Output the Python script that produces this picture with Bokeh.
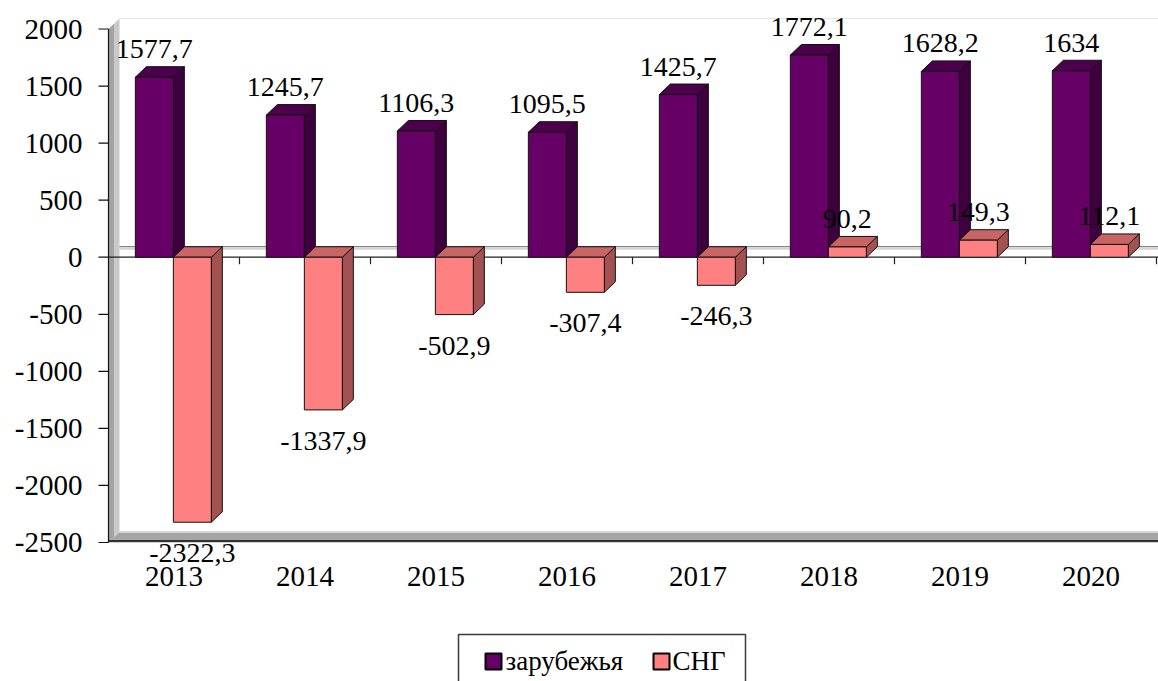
from bokeh.plotting import figure
from bokeh.models import ColumnDataSource, LabelSet, Range1d
from bokeh.core.properties import value
from bokeh.embed import file_html
from bokeh.resources import INLINE

# ---- data ----
years = ["2013", "2014", "2015", "2016", "2017", "2018", "2019", "2020"]
zarub = [1577.7, 1245.7, 1106.3, 1095.5, 1425.7, 1772.1, 1628.2, 1634]
sng = [-2322.3, -1337.9, -502.9, -307.4, -246.3, 90.2, 149.3, 112.1]
series_names = ["зарубежья", "СНГ"]
y_ticks = [-2500, -2000, -1500, -1000, -500, 0, 500, 1000, 1500, 2000]
y_tick_labels = ["-2500", "-2000", "-1500", "-1000", "-500", "0", "500",
                 "1000", "1500", "2000"]

# ---- layout (pixels) ----
W, H = 1158, 681
LEFT = 108                          # pixel column of the value axis
PX_TOP, PX_BOT = 28.5, 542          # pixel rows of the top / bottom y tick
CAT_PX = 131                        # pixel width of one category
ymin, ymax = y_ticks[0], y_ticks[-1]
upp = (ymax - ymin) / (PX_BOT - PX_TOP)   # data units per pixel (y)
Y1 = ymax + PX_TOP * upp
Y0 = ymin - (H - PX_BOT) * upp
X0 = -LEFT / CAT_PX
X1 = (W - LEFT) / CAT_PX
x_end = X1
dx = 11 / CAT_PX                   # 3D depth offset (x, category units)
dy = 10.5 * upp                    # 3D depth offset (y, data units)
FONT = "Liberation Serif"


def xd(px):
    return X0 + px / CAT_PX


def yd(py):
    return Y1 - py * upp


p = figure(width=W, height=H, x_range=Range1d(X0, X1),
           y_range=Range1d(Y0, Y1), output_backend="svg",
           toolbar_location=None, min_border_left=0, min_border_right=0,
           min_border_top=0, min_border_bottom=0)
p.outline_line_color = None
p.xgrid.grid_line_color = None
p.ygrid.grid_line_color = None
p.background_fill_color = "white"
p.xaxis.visible = False
p.yaxis.visible = False

n = len(years)

# ---- walls / floor ----
p.line([dx, x_end], [ymax + dy, ymax + dy], line_color="#E6E6E6", line_width=1)
p.patch([0, dx / 2, dx / 2, 0], [ymin, ymin + dy / 2, ymax + dy / 2, ymax],
        fill_color="#A3A3A3", line_color=None)
p.patch([dx / 2, dx, dx, dx / 2], [ymin + dy / 2, ymin + dy, ymax + dy, ymax + dy / 2],
        fill_color="#C9C9C9", line_color=None)
p.patch([0, dx, x_end + dx, x_end], [ymin, ymin + dy, ymin + dy, ymin],
        fill_color="#A6A6A6", line_color=None)
p.line([dx, x_end + dx], [ymin + dy, ymin + dy], line_color="#D6D6D6", line_width=2)
p.line([0, x_end], [ymin + 1.5 * upp, ymin + 1.5 * upp], line_color="#333333", line_width=2)
# back zero line (on the wall)
p.line([dx, x_end + dx], [dy - 2 * upp, dy - 2 * upp], line_color="#D4D4D4", line_width=2)
p.line([dx, x_end + dx], [dy, dy], line_color="#858585", line_width=1.2)
# front zero line with category tick marks
p.line([0, x_end], [0, 0], line_color="#202020", line_width=1.2)
bounds = list(range(1, n + 1))
p.segment(x0=bounds, y0=[0] * n, x1=bounds, y1=[-7 * upp] * n,
          line_color="#202020", line_width=1.2)

# ---- value axis (line, ticks, labels) ----
p.segment(x0=[0], y0=[ymin], x1=[0], y1=[ymax], line_color="#111111", line_width=1.2)
p.segment(x0=[-10 / CAT_PX] * len(y_ticks), y0=y_ticks, x1=[0] * len(y_ticks),
          y1=y_ticks, line_color="#111111", line_width=1.2)
ytick_src = ColumnDataSource(dict(x=[0] * len(y_ticks), y=y_ticks, t=y_tick_labels))
p.add_layout(LabelSet(x="x", y="y", text="t", source=ytick_src, x_offset=-26,
                      text_align="right", text_baseline="middle",
                      text_font=value(FONT), text_font_size="29px",
                      text_color="black"))


# ---- 3D bars ----
def faces(vals, off, bw):
    F = ([], [])
    S = ([], [])
    T = ([], [])
    for i, v in enumerate(vals):
        a = i + off
        b = a + bw
        lo, hi = min(0, v), max(0, v)
        F[0].append([a, b, b, a]); F[1].append([lo, lo, hi, hi])
        S[0].append([b, b + dx, b + dx, b]); S[1].append([lo, lo + dy, hi + dy, hi])
        T[0].append([a, a + dx, b + dx, b]); T[1].append([hi, hi + dy, hi + dy, hi])
    return F, S, T


BW = 0.29
colors_front = ["#660066", "#FF8080"]
series = [
    (zarub, 0.205, colors_front[0], "#3E003E", "#4C004C"),
    (sng, 0.495, colors_front[1], "#A35252", "#C86464"),
]
label_x, label_y, label_t, label_pos = [], [], [], []
for vals, off, cf, cs, ct in series:
    F, S, T = faces(vals, off, BW)
    p.patches(S[0], S[1], fill_color=cs, line_color="#111111", line_width=1)
    p.patches(T[0], T[1], fill_color=ct, line_color="#111111", line_width=1)
    p.patches(F[0], F[1], fill_color=cf, line_color="#111111", line_width=1)
    for i, v in enumerate(vals):
        label_x.append(i + off + BW / 2)
        label_y.append(v)
        label_t.append(("%g" % v).replace(".", ","))
        label_pos.append(v >= 0)


def pick(flag):
    return ColumnDataSource(dict(
        x=[x for x, k in zip(label_x, label_pos) if k == flag],
        y=[y for y, k in zip(label_y, label_pos) if k == flag],
        t=[t for t, k in zip(label_t, label_pos) if k == flag]))


common = dict(text_align="center", text_baseline="alphabetic",
              text_font=value(FONT), text_font_size="28px", text_color="black")
p.add_layout(LabelSet(x="x", y="y", text="t", source=pick(True), y_offset=19, **common))
p.add_layout(LabelSet(x="x", y="y", text="t", source=pick(False), y_offset=-40, **common))

# category labels under the floor
year_src = ColumnDataSource(dict(x=[i + 0.5 for i in range(n)], y=[ymin] * n, t=years))
p.add_layout(LabelSet(x="x", y="y", text="t", source=year_src, y_offset=-43,
                      text_align="center", text_baseline="alphabetic",
                      text_font=value(FONT), text_font_size="29px",
                      text_color="black"))

# ---- legend (box, keys, labels) ----
p.quad(left=[xd(458)], right=[xd(745)], top=[yd(634)], bottom=[yd(700)],
       fill_color="white", line_color="#3A3A3A", line_width=1.5)
key_left = [485, 653]
text_left = [505, 672]
p.quad(left=[xd(k) for k in key_left], right=[xd(k + 16) for k in key_left],
       top=[yd(653)] * 2, bottom=[yd(669)] * 2,
       fill_color=colors_front, line_color="black", line_width=2)
leg_src = ColumnDataSource(dict(x=[xd(t) for t in text_left], y=[yd(669)] * 2,
                                t=series_names))
p.add_layout(LabelSet(x="x", y="y", text="t", source=leg_src,
                      text_align="left", text_baseline="alphabetic",
                      text_font=value(FONT), text_font_size="27px",
                      text_color="black"))

open("out.html", "w").write(file_html(p, INLINE))
